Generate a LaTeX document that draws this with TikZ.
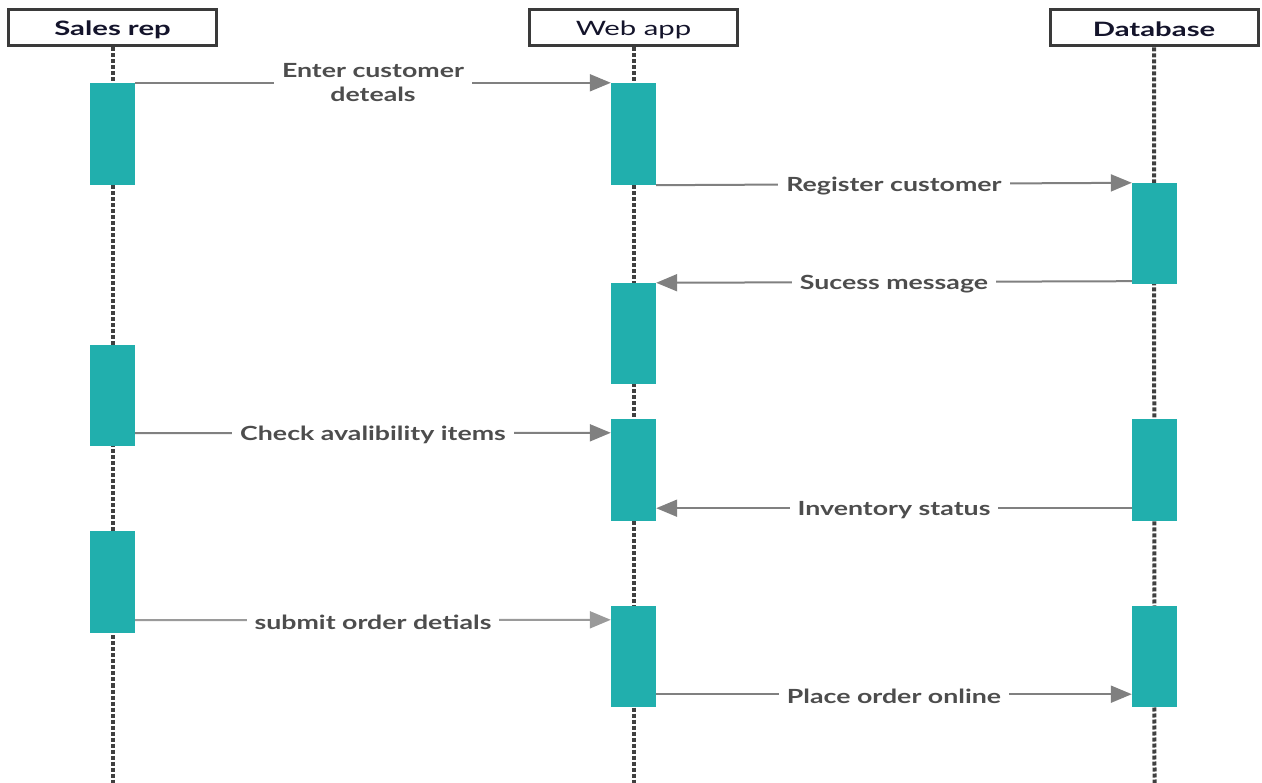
\documentclass[tikz,border=0pt]{standalone}
\usepackage{fontspec}
\setmainfont{Lato}
\newfontfamily\labelfont[FakeStretch=1.37]{Lato}
\newfontfamily\headfont[FakeStretch=1.48]{Lato}
\usetikzlibrary{arrows.meta}
\definecolor{actfill}{HTML}{21AFAD}
\definecolor{headline}{HTML}{3A3A3A}
\definecolor{headtext}{HTML}{14142B}
\definecolor{lifeln}{HTML}{404040}
\definecolor{msgline}{HTML}{808080}
\definecolor{msglight}{HTML}{9A9A9A}
\definecolor{msgtext}{HTML}{4D4D4D}
\tikzset{
  header/.style={draw=headline, line width=3pt, fill=white, minimum width=208pt,
    minimum height=36pt, inner sep=0pt},
  headtxt/.style={yshift=-1.5pt, text=headtext},
  lifeline/.style={draw=lifeln, line width=4pt, dash pattern=on 4pt off 2pt},
  activation/.style={fill=actfill, draw=none, minimum width=45pt, inner sep=0pt},
  msg/.style={draw=msgline, line width=2pt, -{Triangle[length=21pt,width=17pt]}},
  msglabel/.style={fill=white, inner xsep=8pt, inner ysep=1pt, text=msgtext, yshift=-2pt,
    font=\labelfont\bfseries\fontsize{19.5}{24}\selectfont, align=center}
}
\begin{document}
\begin{tikzpicture}[x=1pt, y=-1pt]
  \useasboundingbox (0,0) rectangle (1262,783);

  % lifeline ends at the bottom edge
  \coordinate (repEnd) at (112.5,783);
  \coordinate (webEnd) at (633.5,783);
  \coordinate (dbEnd) at (1154.5,783);

  % participants
  \node[header] (rep) at (112.5,28) {};
  \node[header] (web) at (633.5,28) {};
  \node[header] (db) at (1154,28) {};
  \node[headtxt, font=\headfont\bfseries\fontsize{19.8}{22}\selectfont] (repT) at (rep.center) {Sales rep};
  \node[headtxt, font=\headfont\fontsize{19.8}{22}\selectfont] (webT) at (web.center) {Web app};
  \node[headtxt, font=\headfont\bfseries\fontsize{19.8}{22}\selectfont] (dbT) at (db.center) {Database};

  \draw[lifeline] (rep.south) -- (repEnd);
  \draw[lifeline] (web.south) -- (webEnd);
  \draw[lifeline] (db.south) -- (dbEnd);

  % activation bars
  \node[activation, minimum height=102pt] (s1) at (112.5,134) {};
  \node[activation, minimum height=101pt] (s2) at (112.5,395.5) {};
  \node[activation, minimum height=102pt] (s3) at (112.5,582) {};

  \node[activation, minimum height=102pt] (w1) at (633.5,134) {};
  \node[activation, minimum height=101pt] (w2) at (633.5,333.5) {};
  \node[activation, minimum height=102pt] (w3) at (633.5,470) {};
  \node[activation, minimum height=101pt] (w4) at (633.5,656.5) {};

  \node[activation, minimum height=101pt] (d1) at (1154.5,233.5) {};
  \node[activation, minimum height=102pt] (d2) at (1154.5,470) {};
  \node[activation, minimum height=101pt] (d3) at (1154.5,656.5) {};

  % messages
  \draw[msg] (s1.north east) -- node[msglabel, yshift=2pt] {Enter customer\\deteals} (w1.north west);
  \draw[msg] (w1.south east) -- node[msglabel] {Register customer} (d1.north west);
  \draw[msg] ([yshift=3pt]d1.south west) -- node[msglabel] {Sucess message} (w2.north east);
  \draw[msg] ([yshift=13pt]s2.south east) -- node[msglabel] {Check avalibility items} ([yshift=-14pt]w3.north west);
  \draw[msg] ([yshift=13pt]d2.south west) -- node[msglabel] {Inventory status} ([yshift=13pt]w3.south east);
  \draw[msg, draw=msglight] ([yshift=13pt]s3.south east) -- node[msglabel] {submit order detials} ([yshift=-14pt]w4.north west);
  \draw[msg] ([yshift=13pt]w4.south east) -- node[msglabel] {Place order online} ([yshift=13pt]d3.south west);
\end{tikzpicture}
\end{document}
